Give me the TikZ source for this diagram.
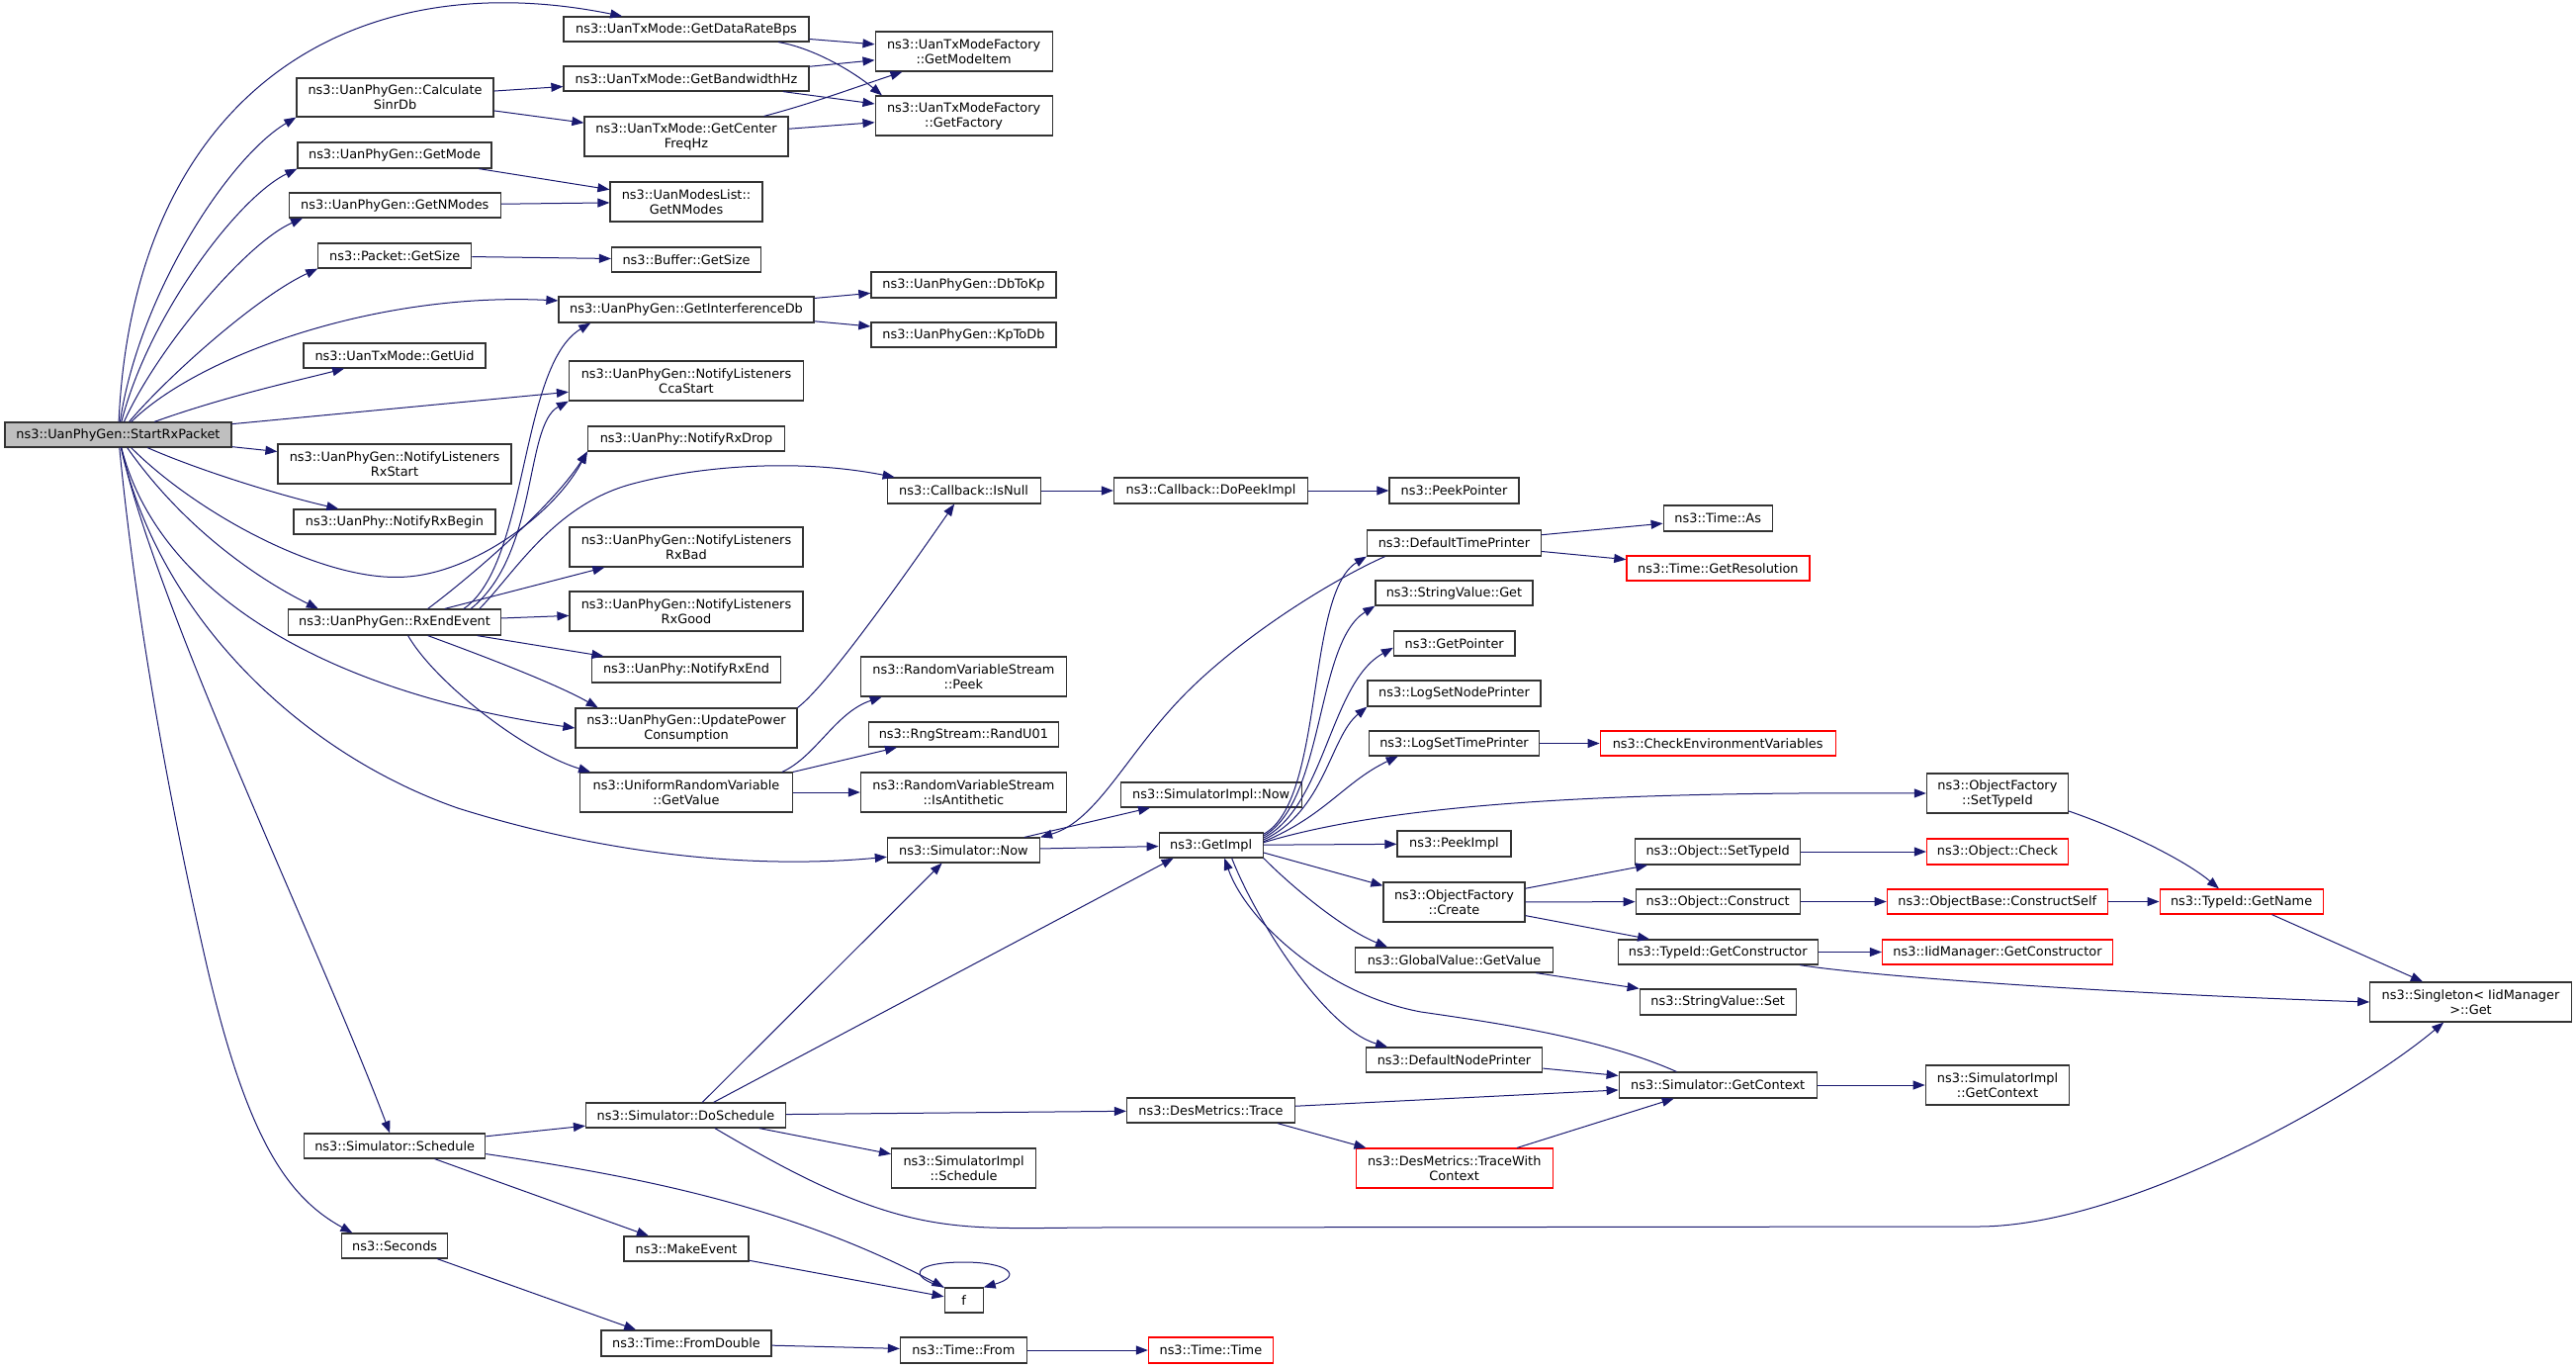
\documentclass[tikz,border=0pt]{standalone}
\usepackage{fontspec}
\setmainfont{DejaVu Sans}
\usetikzlibrary{arrows.meta}
\definecolor{edgeblue}{HTML}{191970}
\definecolor{boxgray}{HTML}{333333}
\definecolor{boxred}{HTML}{FF0000}
\definecolor{startfill}{HTML}{BFBFBF}
\begin{document}
\begin{tikzpicture}[x=1pt,y=-1pt,>={Triangle[length=12pt,width=9pt]},font=\fontsize{12.9}{15}\selectfont,
    fn/.style={draw=boxgray,line width=1.2pt,fill=white,inner sep=0pt,minimum height=25pt,align=center},
    fnred/.style={fn,draw=boxred},
    call/.style={->,draw=edgeblue,line width=1pt}]
                \useasboundingbox (0,0) rectangle (2605,1384);
                \fill[white] (0,0) rectangle (2605,1384);
                % column 1
                \node[fn,fill=startfill,minimum width=229pt] (start) at (119.5,439.5) {ns3::UanPhyGen::StartRxPacket};
                % column 2
                \node[fn,minimum width=199pt,minimum height=39pt] (sinr) at (399.5,98.5) {ns3::UanPhyGen::Calculate\\SinrDb};
                \node[fn,minimum width=196pt,minimum height=26pt] (getmode) at (399,157) {ns3::UanPhyGen::GetMode};
                \node[fn,minimum width=214pt] (getnmodes) at (399.3,207.5) {ns3::UanPhyGen::GetNModes};
                \node[fn,minimum width=155pt] (pktsize) at (399.3,258.5) {ns3::Packet::GetSize};
                \node[fn,minimum width=184pt] (getuid) at (399,359.5) {ns3::UanTxMode::GetUid};
                \node[fn,minimum width=236pt,minimum height=40pt] (rxstart) at (399,469) {ns3::UanPhyGen::NotifyListeners\\RxStart};
                \node[fn,minimum width=204pt] (rxbegin) at (399,527.5) {ns3::UanPhy::NotifyRxBegin};
                \node[fn,minimum width=215pt,minimum height=26pt] (rxend) at (399,629) {ns3::UanPhyGen::RxEndEvent};
                \node[fn,minimum width=183pt] (schedule) at (399.2,1158.5) {ns3::Simulator::Schedule};
                \node[fn,minimum width=107pt] (seconds) at (399.2,1259.5) {ns3::Seconds};
                % column 3
                \node[fn,minimum width=248pt] (datarate) at (694,29.5) {ns3::UanTxMode::GetDataRateBps};
                \node[fn,minimum width=248pt] (bandwidth) at (694,79.5) {ns3::UanTxMode::GetBandwidthHz};
                \node[fn,minimum width=206pt,minimum height=40pt] (centerfreq) at (694,138) {ns3::UanTxMode::GetCenter\\FreqHz};
                \node[fn,minimum width=154pt,minimum height=40pt] (modeslist) at (694,204) {ns3::UanModesList::\\GetNModes};
                \node[fn,minimum width=151pt] (bufsize) at (694,262.5) {ns3::Buffer::GetSize};
                \node[fn,minimum width=258pt,minimum height=26pt] (interf) at (694,313) {ns3::UanPhyGen::GetInterferenceDb};
                \node[fn,minimum width=237pt,minimum height=40pt] (ccastart) at (694,385) {ns3::UanPhyGen::NotifyListeners\\CcaStart};
                \node[fn,minimum width=199pt] (rxdrop) at (694,443.5) {ns3::UanPhy::NotifyRxDrop};
                \node[fn,minimum width=236pt,minimum height=40pt] (rxbad) at (694,553) {ns3::UanPhyGen::NotifyListeners\\RxBad};
                \node[fn,minimum width=236pt,minimum height=40pt] (rxgood) at (694,618) {ns3::UanPhyGen::NotifyListeners\\RxGood};
                \node[fn,minimum width=191pt,minimum height=26pt] (notifyrxend) at (694,677) {ns3::UanPhy::NotifyRxEnd};
                \node[fn,minimum width=224pt,minimum height=40pt] (power) at (694,736) {ns3::UanPhyGen::UpdatePower\\Consumption};
                \node[fn,minimum width=215pt,minimum height=40pt] (uniform) at (694,801) {ns3::UniformRandomVariable\\::GetValue};
                \node[fn,minimum width=202pt] (doschedule) at (693.5,1127.5) {ns3::Simulator::DoSchedule};
                \node[fn,minimum width=126pt] (makeevent) at (694,1262.5) {ns3::MakeEvent};
                \node[fn,minimum width=172pt,minimum height=26pt] (fromdouble) at (694,1358) {ns3::Time::FromDouble};
                % column 4
                \node[fn,minimum width=179pt,minimum height=40pt] (modeitem) at (974.6,52) {ns3::UanTxModeFactory\\::GetModeItem};
                \node[fn,minimum width=179pt,minimum height=40pt] (factory) at (974.6,117) {ns3::UanTxModeFactory\\::GetFactory};
                \node[fn,minimum width=187pt,minimum height=26pt] (dbtokp) at (974.4,288) {ns3::UanPhyGen::DbToKp};
                \node[fn,minimum width=187pt] (kptodb) at (974.4,338.5) {ns3::UanPhyGen::KpToDb};
                \node[fn,minimum width=155pt,minimum height=26pt] (isnull) at (974.6,496) {ns3::Callback::IsNull};
                \node[fn,minimum width=208pt,minimum height=40pt] (rvspeek) at (974.4,684) {ns3::RandomVariableStream\\::Peek};
                \node[fn,minimum width=192pt] (randu01) at (974.4,742.5) {ns3::RngStream::RandU01};
                \node[fn,minimum width=208pt,minimum height=40pt] (antithetic) at (974.4,801) {ns3::RandomVariableStream\\::IsAntithetic};
                \node[fn,minimum width=154pt] (simnow) at (974.4,859.5) {ns3::Simulator::Now};
                \node[fn,minimum width=146pt,minimum height=40pt] (implschedule) at (974.6,1181) {ns3::SimulatorImpl\\::Schedule};
                \node[fn,minimum width=39pt] (f) at (974.6,1314.5) {f};
                \node[fn,minimum width=128pt,minimum height=26pt] (timefrom) at (974.4,1365) {ns3::Time::From};
                % column 5
                \node[fn,minimum width=196pt,minimum height=26pt] (dopeek) at (1224.5,496) {ns3::Callback::DoPeekImpl};
                \node[fn,minimum width=183pt] (simimplnow) at (1224.7,803.5) {ns3::SimulatorImpl::Now};
                \node[fn,minimum width=105pt] (getimpl) at (1224.7,854.5) {ns3::GetImpl};
                \node[fn,minimum width=170pt] (trace) at (1224.5,1122.5) {ns3::DesMetrics::Trace};
                \node[fnred,minimum width=126pt,minimum height=26pt] (timetime) at (1224.4,1365) {ns3::Time::Time};
                % column 6
                \node[fn,minimum width=131pt,minimum height=26pt] (peekpointer) at (1470.5,496) {ns3::PeekPointer};
                \node[fn,minimum width=176pt,minimum height=26pt] (deftime) at (1470.5,549) {ns3::DefaultTimePrinter};
                \node[fn,minimum width=159pt] (strget) at (1470.5,599.5) {ns3::StringValue::Get};
                \node[fn,minimum width=122.5pt] (getpointer) at (1470.7,650.5) {ns3::GetPointer};
                \node[fn,minimum width=175pt,minimum height=26pt] (lognode) at (1470.5,701) {ns3::LogSetNodePrinter};
                \node[fn,minimum width=172pt] (logtime) at (1470.5,751.5) {ns3::LogSetTimePrinter};
                \node[fn,minimum width=115pt,minimum height=26pt] (peekimpl) at (1470.5,853) {ns3::PeekImpl};
                \node[fn,minimum width=143pt,minimum height=40pt] (ofcreate) at (1470.5,912) {ns3::ObjectFactory\\::Create};
                \node[fn,minimum width=200pt] (globalget) at (1470.5,970.5) {ns3::GlobalValue::GetValue};
                \node[fn,minimum width=178.5pt] (defnode) at (1470.5,1071.5) {ns3::DefaultNodePrinter};
                \node[fnred,minimum width=199pt,minimum height=40pt] (tracewith) at (1470.7,1181) {ns3::DesMetrics::TraceWith\\Context};
                % column 7
                \node[fn,minimum width=110pt,minimum height=26pt] (timeas) at (1737.2,524) {ns3::Time::As};
                \node[fnred,minimum width=185pt] (resolution) at (1737.4,574.5) {ns3::Time::GetResolution};
                \node[fnred,minimum width=238pt] (checkenv) at (1737.2,751.5) {ns3::CheckEnvironmentVariables};
                \node[fn,minimum width=167pt,minimum height=26pt] (objsettypeid) at (1737.2,861) {ns3::Object::SetTypeId};
                \node[fn,minimum width=166pt] (objconstruct) at (1737.2,911.5) {ns3::Object::Construct};
                \node[fn,minimum width=202pt] (getconstructor) at (1737.2,962.5) {ns3::TypeId::GetConstructor};
                \node[fn,minimum width=158pt,minimum height=26pt] (strset) at (1737.2,1013) {ns3::StringValue::Set};
                \node[fn,minimum width=200pt,minimum height=26pt] (getcontext) at (1737.2,1097) {ns3::Simulator::GetContext};
                % column 8
                \node[fn,minimum width=143pt,minimum height=40pt] (ofsettypeid) at (2019.9,802) {ns3::ObjectFactory\\::SetTypeId};
                \node[fnred,minimum width=143pt,minimum height=26pt] (objcheck) at (2020,861) {ns3::Object::Check};
                \node[fnred,minimum width=223pt] (constructself) at (2019.8,911.5) {ns3::ObjectBase::ConstructSelf};
                \node[fnred,minimum width=233pt] (iidgetconstructor) at (2020,962.5) {ns3::IidManager::GetConstructor};
                \node[fn,minimum width=145.5pt,minimum height=40pt] (implgetcontext) at (2020,1097) {ns3::SimulatorImpl\\::GetContext};
                % columns 9 and 10
                \node[fnred,minimum width=165pt] (getname) at (2266.6,911.5) {ns3::TypeId::GetName};
                \node[fn,minimum width=203.5pt,minimum height=40pt] (singleton) at (2498.5,1013) {ns3::Singleton< IidManager\\>::Get};

                % calls of StartRxPacket
                \draw[call] (start) .. controls (135,100) and (350,-40) .. (datarate);
                \draw[call] (start) .. controls (140,300) and (230,160) .. (sinr.south west);
                \draw[call] (start) .. controls (150,320) and (240,200) .. (getmode.south west);
                \draw[call] (start) .. controls (160,350) and (250,245) .. (getnmodes.-172);
                \draw[call] (start) .. controls (170,380) and (260,300) .. (pktsize.south west);
                \draw[call] (start) .. controls (200,360) and (380,295) .. (interf.176);
                \draw[call] (start) .. controls (230,400) and (300,385) .. (getuid);
                \draw[call] (start) -- (ccastart);
                \draw[call] (start) -- (rxstart);
                \draw[call] (start) .. controls (200,475) and (280,500) .. (rxbegin);
                \draw[call] (start) .. controls (200,520) and (330,590) .. (412,583) .. controls (480,578) and (560,520) .. (rxdrop.south west);
                \draw[call] (start) .. controls (190,540) and (270,590) .. (rxend.170);
                \draw[call] (start) .. controls (160,600) and (330,700) .. (power.west);
                \draw[call] (start) .. controls (160,620) and (300,760) .. (463,817) .. controls (600,860) and (750,880) .. (simnow.-175);
                \draw[call] (start) .. controls (160,620) and (320,950) .. (schedule);
                \draw[call] (start) .. controls (140,650) and (180,850) .. (210,980) .. controls (250,1150) and (290,1210) .. (seconds.163);

                % second rank
                \draw[call] (sinr) -- (bandwidth);
                \draw[call] (sinr) -- (centerfreq);
                \draw[call] (getmode) -- (modeslist);
                \draw[call] (getnmodes) -- (modeslist);
                \draw[call] (pktsize) -- (bufsize);
                \draw[call] (rxend.22) .. controls (480,580) and (560,510) .. (rxdrop.south west);
                \draw[call] (rxend.11) .. controls (535,570) and (525,370) .. (interf.-172);
                \draw[call] (rxend.10) .. controls (545,560) and (530,430) .. (ccastart.south west);
                \draw[call] (rxend.9) .. controls (520,580) and (560,510) .. (640,489) .. controls (700,473) and (800,462) .. (isnull.169);
                \draw[call] (rxend.15) -- (rxbad.-166);
                \draw[call] (rxend) -- (rxgood);
                \draw[call] (rxend) -- (notifyrxend);
                \draw[call] (rxend.-22) .. controls (480,660) and (560,690) .. (power.167);
                \draw[call] (rxend.-45) .. controls (440,690) and (530,760) .. (uniform.168);
                \draw[call] (schedule) -- (doschedule);
                \draw[call] (schedule.-18) -- (makeevent.161);
                \draw[call] (schedule.-5) .. controls (650,1190) and (800,1220) .. (f.north west);
                \draw[call] (seconds.-17) -- (fromdouble.165);

                % third rank
                \draw[call] (datarate) -- (modeitem);
                \draw[call] (datarate.-8) .. controls (820,48) and (860,70) .. (factory.166);
                \draw[call] (bandwidth) -- (modeitem);
                \draw[call] (bandwidth) -- (factory);
                \draw[call] (centerfreq) .. controls (820,105) and (860,90) .. (modeitem);
                \draw[call] (centerfreq) -- (factory);
                \draw[call] (interf) -- (dbtokp);
                \draw[call] (interf) -- (kptodb);
                \draw[call] (power.north east) .. controls (840,690) and (930,560) .. (isnull);
                \draw[call] (uniform.12) .. controls (825,765) and (845,720) .. (rvspeek.-166);
                \draw[call] (uniform.north east) -- (randu01.-169);
                \draw[call] (uniform) -- (antithetic);
                \draw[call] (doschedule.25) -- (getimpl.-161);
                \draw[call] (doschedule.38) -- (simnow.-149);
                \draw[call] (doschedule) -- (trace);
                \draw[call] (doschedule.-10) -- (implschedule.169);
                \draw[call] (doschedule.-24) .. controls (790,1180) and (830,1200) .. (870,1215) .. controls (950,1245) and (1000,1242) .. (1100,1241) -- (2000,1240) .. controls (2150,1240) and (2380,1110) .. (singleton.-143);
                \draw[call] (makeevent) -- (f);
                \draw[call] (f.north west) .. controls (915,1290) and (925,1276) .. (974.6,1276) .. controls (1020,1276) and (1035,1290) .. (f.north east);
                \draw[call] (fromdouble) -- (timefrom);
                \draw[call] (timefrom) -- (timetime);

                % Now, GetImpl and the rest
                \draw[call] (isnull) -- (dopeek);
                \draw[call] (dopeek) -- (peekpointer);
                \draw[call] (simnow.12) -- (simimplnow.-168);
                \draw[call] (simnow) -- (getimpl);
                \draw[call] (deftime.-169) .. controls (1350,585) and (1260,640) .. (1200,700) .. controls (1140,760) and (1110,830) .. (simnow.north east);
                \draw[call] (getimpl.12) .. controls (1340,810) and (1320,600) .. (deftime.south west);
                \draw[call] (getimpl.10) .. controls (1340,810) and (1330,650) .. (strget.south west);
                \draw[call] (getimpl.8) .. controls (1340,815) and (1345,690) .. (getpointer.-176);
                \draw[call] (getimpl.6) .. controls (1340,820) and (1345,745) .. (lognode.south west);
                \draw[call] (getimpl.4) .. controls (1340,825) and (1360,790) .. (logtime.-167);
                \draw[call] (getimpl.3) .. controls (1400,815) and (1600,800) .. (ofsettypeid.west);
                \draw[call] (getimpl) -- (peekimpl);
                \draw[call] (getimpl.-8) -- (ofcreate.167);
                \draw[call] (getimpl.south east) .. controls (1310,900) and (1360,940) .. (globalget.169);
                \draw[call] (getimpl.-32) .. controls (1270,930) and (1340,1040) .. (defnode.169);
                \draw[call] (getcontext.162) .. controls (1620,1050) and (1520,1035) .. (1437,1023) .. controls (1340,1005) and (1260,930) .. (getimpl.-44);
                \draw[call] (trace) -- (getcontext);
                \draw[call] (trace.-11) -- (tracewith.167);
                \draw[call] (tracewith.18) -- (getcontext.-163);
                \draw[call] (defnode) -- (getcontext);
                \draw[call] (getcontext) -- (implgetcontext);
                \draw[call] (globalget.-9) -- (strset.north west);
                \draw[call] (deftime) -- (timeas);
                \draw[call] (deftime) -- (resolution);
                \draw[call] (logtime) -- (checkenv);
                \draw[call] (ofcreate) -- (objsettypeid);
                \draw[call] (ofcreate) -- (objconstruct);
                \draw[call] (ofcreate) -- (getconstructor);
                \draw[call] (objsettypeid) -- (objcheck);
                \draw[call] (objconstruct) -- (constructself);
                \draw[call] (constructself) -- (getname);
                \draw[call] (ofsettypeid.-14) .. controls (2150,840) and (2210,870) .. (getname.150);
                \draw[call] (getname.-23) -- (singleton.157);
                \draw[call] (getconstructor) -- (iidgetconstructor);
                \draw[call] (getconstructor.-9) .. controls (1900,988) and (2150,1005) .. (singleton.west);
            \end{tikzpicture}
\end{document}
